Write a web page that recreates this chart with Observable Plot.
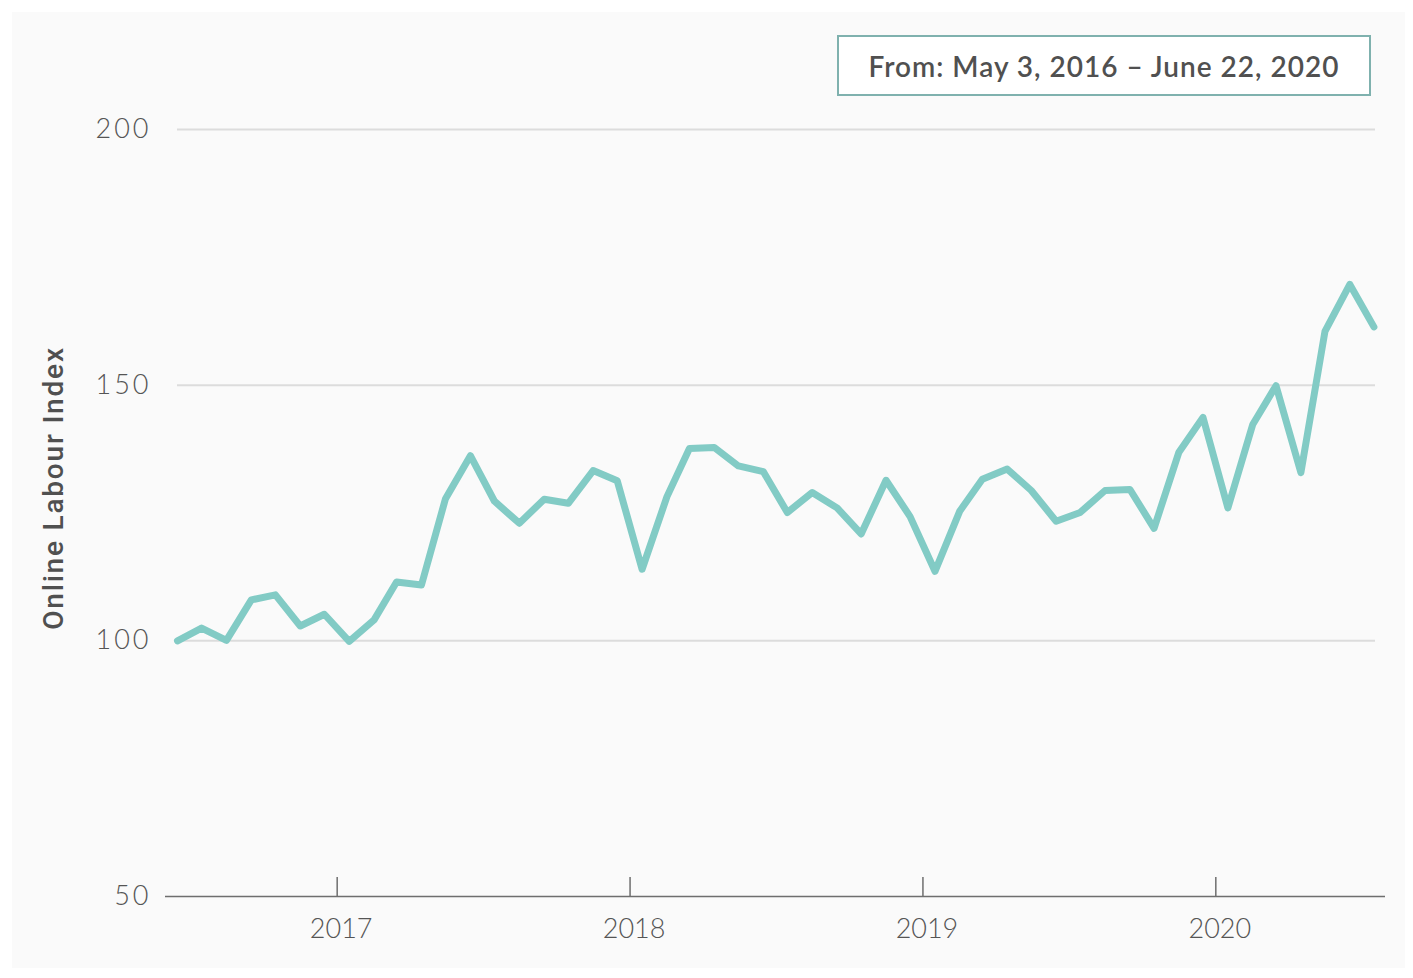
<!DOCTYPE html>
<html>
<head>
<meta charset="utf-8">
<script src="https://cdn.jsdelivr.net/npm/d3@7"></script>
<script src="https://cdn.jsdelivr.net/npm/@observablehq/plot@0.6"></script>
<style>
  html, body { margin: 0; padding: 0; background: #ffffff; }
  #panel { position: absolute; left: 12px; top: 12px; width: 1393px; height: 956px; background: #fafafa; }
  #chart { position: absolute; left: 0; top: 0; }
  #range { position: absolute; left: 825px; top: 23px; width: 530px; height: 57px; border: 2px solid #7fb1ae; background: #ffffff;
           font-family: Lato, sans-serif; font-weight: 600; font-size: 28px; color: #505050; display: flex; align-items: center; justify-content: center; letter-spacing: 1px; }
  #ylab { position: absolute; left: 41px; top: 476px; transform: translate(-50%, -50%) rotate(-90deg); white-space: nowrap;
          font-family: Roboto, sans-serif; font-weight: 500; font-size: 28px; color: #505050; letter-spacing: 1.8px; }
  .ytl text { letter-spacing: 3px; }
</style>
</head>
<body>
<div id="panel">
  <div id="chart"></div>
  <div id="range">From: May 3, 2016 – June 22, 2020</div>
  <div id="ylab">Online Labour Index</div>
</div>
<script>
const dates = [
  "2016-06-16","2016-07-16","2016-08-16","2016-09-16","2016-10-16","2016-11-16","2016-12-16",
  "2017-01-16","2017-02-16","2017-03-16","2017-04-16","2017-05-16","2017-06-16","2017-07-16","2017-08-16","2017-09-16","2017-10-16","2017-11-16","2017-12-16",
  "2018-01-16","2018-02-16","2018-03-16","2018-04-16","2018-05-16","2018-06-16","2018-07-16","2018-08-16","2018-09-16","2018-10-16","2018-11-16","2018-12-16",
  "2019-01-16","2019-02-16","2019-03-16","2019-04-16","2019-05-16","2019-06-16","2019-07-16","2019-08-16","2019-09-16","2019-10-16","2019-11-16","2019-12-16",
  "2020-01-16","2020-02-16","2020-03-16","2020-04-16","2020-05-16","2020-06-16","2020-07-16"
];
const values = [
  100.0, 102.5, 100.1, 108.0, 109.0, 102.9, 105.2,
  99.9, 104.1, 111.5, 110.9, 127.8, 136.2, 127.3, 123.0, 127.7, 126.9, 133.3, 131.3,
  114.0, 128.2, 137.6, 137.8, 134.2, 133.1, 125.1, 129.0, 126.0, 120.9, 131.4, 124.3,
  113.6, 125.4, 131.6, 133.6, 129.4, 123.4, 125.1, 129.4, 129.6, 122.0, 136.9, 143.7,
  126.0, 142.3, 149.9, 132.9, 160.5, 169.7, 161.4
];
const xDomain = ["2016-06-16", "2020-07-18"];
const yDomain = [50, 200];
const yTicks = [50, 100, 150, 200];
const gridValues = [100, 150, 200];
const yearTicks = ["2017-01-01", "2018-01-01", "2019-01-01", "2020-01-01"];

const data = dates.map((d, i) => ({date: new Date(d), value: values[i]}));
const years = yearTicks.map(d => new Date(d));

const chart = Plot.plot({
  width: 1393,
  height: 956,
  marginLeft: 165,
  marginRight: 30,
  marginTop: 117,
  marginBottom: 72,
  style: {background: "transparent", fontFamily: "Lato, sans-serif", overflow: "visible"},
  x: {type: "utc", domain: xDomain.map(d => new Date(d))},
  y: {domain: yDomain},
  marks: [
    Plot.ruleY(gridValues, {stroke: "#dcdcdc", strokeWidth: 2}),
    Plot.ruleY([yDomain[0]], {stroke: "#6e6e6e", strokeWidth: 1.5, insetLeft: -12, insetRight: -10}),
    Plot.tickX(years, {x: d => d, stroke: "#6e6e6e", strokeWidth: 1.5, insetTop: 748}),
    Plot.axisY({ticks: yTicks, tickSize: 0, tickPadding: 26, fontSize: 27, fontWeight: 300, fill: "#555", label: null, className: "ytl"}),
    Plot.axisX({ticks: years, tickSize: 0, tickPadding: 22, tickFormat: d3.utcFormat("%Y"), fontSize: 27, fontWeight: 300, fill: "#555", label: null, dx: 4}),
    Plot.line(data, {x: "date", y: "value", stroke: "#82cbc5", strokeWidth: 7, strokeLinejoin: "round", strokeLinecap: "round"})
  ]
});
document.getElementById("chart").appendChild(chart);
</script>
</body>
</html>
